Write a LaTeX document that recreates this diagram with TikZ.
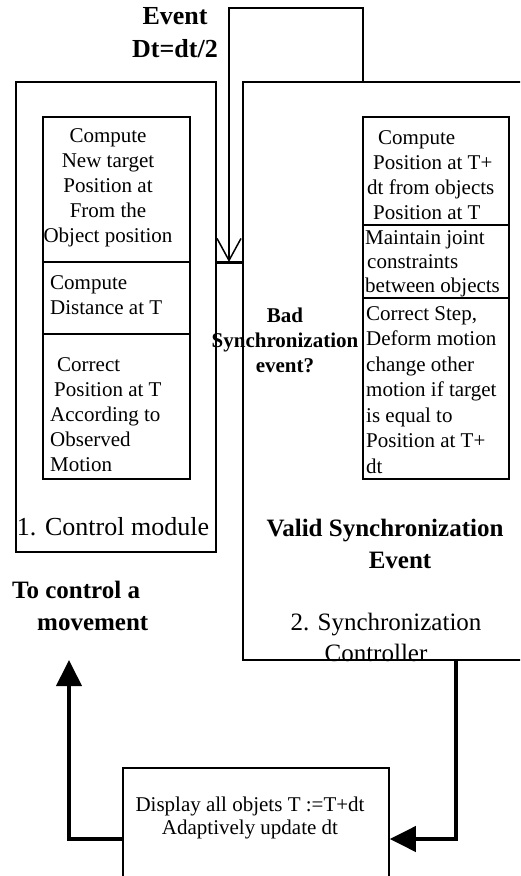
\documentclass[tikz,border=0pt]{standalone}
\usepackage{fontspec}
\setmainfont{Liberation Serif}
\usetikzlibrary{arrows.meta}
\begin{document}
\begin{tikzpicture}[x=1pt,y=-1pt,
  outerbox/.style={draw, line width=1.6pt, inner sep=0pt},
  innerline/.style={line width=1.3pt},
  boxtxt/.style={inner sep=0pt, font=\fontsize{21}{25}\selectfont},
  bigtxt/.style={inner sep=0pt, font=\fontsize{26}{32}\selectfont},
  bigbold/.style={inner sep=0pt, font=\fontsize{25}{32}\selectfont\bfseries},
  flowarrow/.style={line width=4pt, -{Triangle[length=26pt,width=25pt]}},
  feedline/.style={line width=1.5pt}]
\useasboundingbox (0,0) rectangle (520,876);
\clip (0,0) rectangle (520,876);
% outer boxes
\node[outerbox, minimum width=200pt, minimum height=470pt] (ctrl) at (116,317) {};
\node[outerbox, minimum width=297pt, minimum height=578pt] (sync) at (391.5,371) {};
\node[outerbox, minimum width=266pt, minimum height=142pt] (disp) at (256,839) {};
% inner left box
\draw[innerline] (43,117) rectangle (190,479);
\draw[innerline] (43,262) -- (190,262);
\draw[innerline] (43,334) -- (190,334);
% inner right box
\draw[innerline] (363,117) rectangle (509,479);
\draw[line width=2.2pt] (363,225) -- (509,225);
\draw[line width=2.2pt] (363,298) -- (509,298);
% left texts
\node[boxtxt, align=center] (l1) at (108,188) {Compute\\New target\\Position at\\From the\\Object position};
\node[boxtxt, align=left, anchor=west] (l2) at (50,295) {Compute\\Distance at T};
\node[boxtxt, align=left, anchor=west] (l3) at (50,415) {\kern7pt Correct\\\kern4pt Position at T\\According to\\Observed\\Motion};
% right texts
\node[boxtxt, align=left, anchor=west] (r1) at (367,175.5) {\kern11pt Compute\\\kern6pt Position at T+\\dt from objects\\\kern6pt Position at T};
\node[boxtxt, align=left, anchor=west, font=\fontsize{21}{24}\selectfont] (r2) at (365,264) {Maintain joint\\\kern2pt constraints\\between objects};
\node[boxtxt, align=left, anchor=west, font=\fontsize{21}{25.5}\selectfont] (r3) at (366,390) {Correct Step,\\Deform motion\\change other\\motion if target\\is equal to\\Position at T+\\dt};
% labels
\node[bigbold, align=center, font=\fontsize{26}{33}\selectfont\bfseries] (evt) at (175,33) {Event\\Dt=dt/2};
\node[inner sep=0pt, align=center, font=\fontsize{21}{25}\selectfont\bfseries] (bad) at (285,340) {Bad\\Synchronization\\event?};
\node[bigtxt] (ctrllbl) at (113,527) {1. Control module};
\node[bigbold, align=center] (valid) at (385,544) {Valid Synchronization\\\kern30pt Event};
\node[inner sep=0pt, align=center, font=\fontsize{25}{31}\selectfont] (synclbl) at (386,637) {2. Synchronization\\Controller\kern20pt};
\node[bigbold, align=left, anchor=west] (tocontrol) at (12,606) {To control a\\\kern25pt movement};
\node[boxtxt, align=center, font=\fontsize{21}{23}\selectfont] (disptxt) at (250,818) {Display all objets T :=T+dt\\Adaptively update dt};
% feedback loop on top
\coordinate (fbA) at (363,8);
\coordinate (fbB) at (229,8);
\coordinate (junc) at (229,262);
\draw[feedline, -{Straight Barb[length=22pt,width=24pt]}] (sync.north -| fbA) -- (fbA) -- (fbB) -- (junc);
\draw[line width=3pt] (ctrl.east |- junc) -- (sync.west |- junc);
% bottom arrows
\coordinate (sdown) at (456,660);
\coordinate (lup) at (69,660);
\draw[flowarrow] (sdown) |- (disp.east);
\draw[flowarrow] (disp.west) -| (lup);
\end{tikzpicture}
\end{document}
